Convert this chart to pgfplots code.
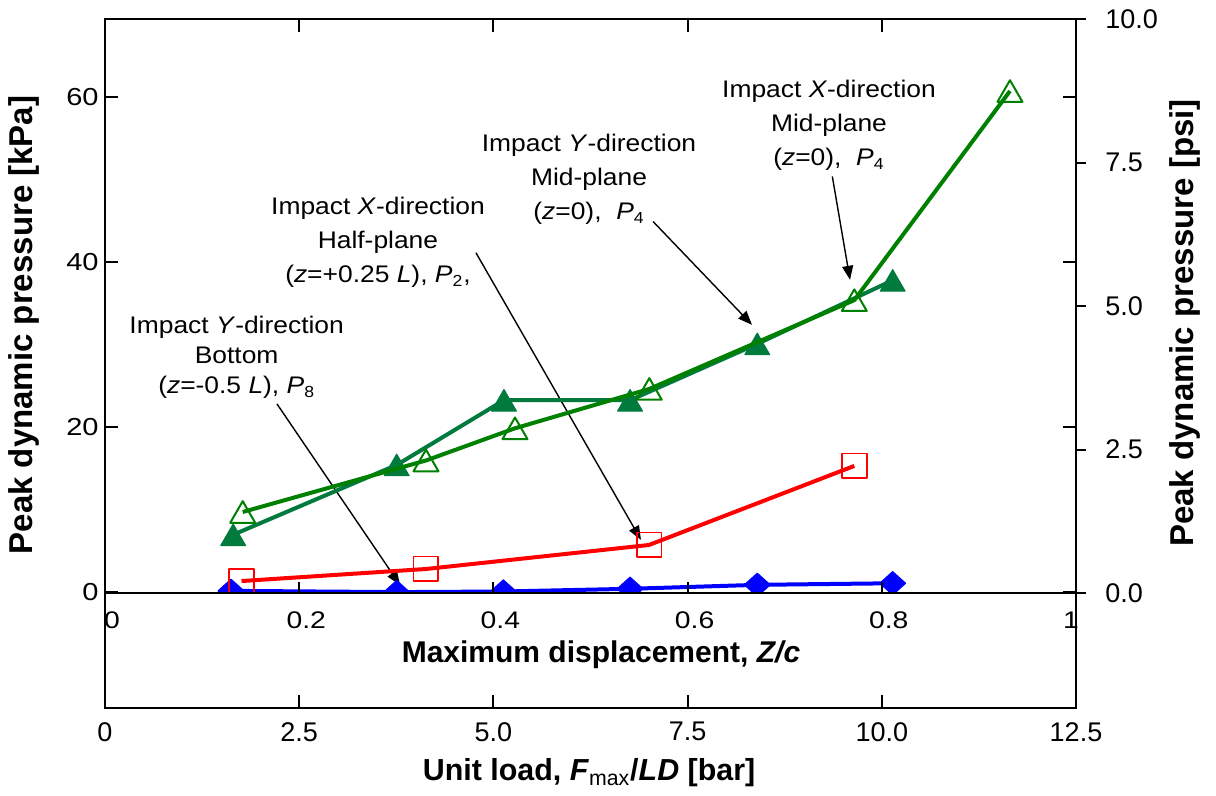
\documentclass[border=0pt]{standalone}
\usepackage{fontspec}
\setmainfont{Liberation Sans}
\newfontfamily\tickfont[FakeStretch=1.18]{Liberation Sans}
\newfontfamily\annfont[FakeStretch=1.1]{Liberation Sans}
\usepackage{pgfplots}
\pgfplotsset{compat=1.18}
\usetikzlibrary{arrows.meta}
\definecolor{dgreen}{RGB}{0,122,61}
\definecolor{lgreen}{RGB}{0,128,0}
\definecolor{pblue}{RGB}{0,0,255}
\definecolor{pred}{RGB}{255,0,0}

\begin{document}
\begin{tikzpicture}
\begin{axis}[name=main, scale only axis, width=485.5pt, height=344.5pt,
  xmin=0, xmax=12.5, ymin=-14, ymax=69.5,
  axis line style={line width=1pt},
  every tick/.style={black, line width=1pt},
  major tick length=6.5pt,
  tick align=inside,
  xtick={0,2.5,5,7.5,10,12.5}, xticklabels={0,2.5,5.0,7.5,10.0,12.5},
  ytick={0,20,40,60}, yticklabels={0,20,40,60},
  xticklabel style={font=\fontsize{13.5}{16}\selectfont, anchor=north, inner sep=0pt, yshift=-7pt},
  yticklabel style={font=\tickfont\fontsize{12.3}{14}\selectfont, anchor=east, inner sep=0pt, xshift=-3pt},
  xlabel={Unit load, \textit{F}\textsubscript{\normalfont max}/\textit{LD} [bar]},
  xlabel style={at={(rel axis cs:0.4985,-0.0943)}, anchor=center, font=\bfseries\fontsize{15.2}{17}\selectfont},
  ylabel={Peak dynamic pressure [kPa]},
  ylabel style={at={(rel axis cs:-0.0834,0.5559)}, anchor=center, font=\bfseries\fontsize{16.5}{19}\selectfont},
]
\node[align=center, font=\annfont\fontsize{12}{15}\selectfont] at (axis cs:1.695,28.49)
  {Impact \textit{Y}-direction\\Bottom\\(\textit{z}=-0.5 \textit{L}), \textit{P}\textsubscript{8}};
\node[align=center, font=\annfont\fontsize{12}{17}\selectfont] at (axis cs:3.514,42.38)
  {Impact \textit{X}-direction\\Half-plane\\(\textit{z}=+0.25 \textit{L}), \textit{P}\textsubscript{2},};
\node[align=center, font=\annfont\fontsize{12}{17}\selectfont] at (axis cs:6.231,50.02)
  {Impact \textit{Y}-direction\\Mid-plane\\(\textit{z}=0),~~\textit{P}\textsubscript{4}};
\node[align=center, font=\annfont\fontsize{12}{17}\selectfont] at (axis cs:9.320,56.6)
  {Impact \textit{X}-direction\\Mid-plane\\(\textit{z}=0),~~\textit{P}\textsubscript{4}};

\draw[black, line width=0.7pt, -{Triangle[length=7pt,width=5.5pt]}] (axis cs:2.214,22.85) -- (axis cs:3.798,0.91);
\draw[black, line width=0.7pt, -{Triangle[length=7pt,width=5.5pt]}] (axis cs:4.776,41.16) -- (axis cs:6.900,6.37);
\draw[black, line width=0.7pt, -{Triangle[length=7pt,width=5.5pt]}] (axis cs:7.055,44.96) -- (axis cs:8.329,32.44);
\draw[black, line width=0.7pt, -{Triangle[length=7pt,width=5.5pt]}] (axis cs:9.363,50.42) -- (axis cs:9.591,37.89);
\end{axis}

% right psi axis
\begin{axis}[at={(main.south west)}, anchor=south west, scale only axis, width=485.5pt, height=344.5pt,
  xmin=0, xmax=12.5, ymin=-2, ymax=10, axis x line=none, axis y line*=right,
  axis line style={line width=1pt},
  every tick/.style={black, line width=1pt},
  tick align=outside, major tick length=5pt,
  ytick={0,2.5,5,7.5,10}, yticklabels={0.0,2.5,5.0,7.5,10.0},
  yticklabel style={font=\fontsize{13.5}{16}\selectfont, anchor=west, inner sep=0pt, xshift=9.5pt},
  ylabel={Peak dynamic pressure [psi]},
  ylabel style={at={(rel axis cs:1.1123,0.5588)}, anchor=center, font=\bfseries\fontsize{16.5}{19}\selectfont},
]
\end{axis}

% data, drawn above the zero line only (same kPa scale as the left axis)
\begin{axis}[at={(main.north west)}, anchor=north west, scale only axis, width=485.5pt, height=286.75pt,
  xmin=0, xmax=12.5, ymin=0, ymax=69.5, hide axis, clip=true, clip marker paths=true,
  line join=round,
]
% Impact Y-direction, bottom, P8
\addplot[pblue, line width=2pt, mark=diamond*, mark size=5.85pt, mark options={solid, xscale=1.48, fill=pblue, draw=pblue, line width=0.5pt}]
  coordinates {(1.622,0.2) (3.755,0.05) (5.128,0.12) (6.759,0.45) (8.397,0.93) (10.140,1.12)};
% Impact X-direction, half-plane, P2
\addplot[pred, line width=2pt, mark=square, mark size=6.2pt, mark options={solid, draw=pred, fill=none, line width=0.9pt}]
  coordinates {(1.757,1.39) (4.132,2.85) (7.003,5.76) (9.646,15.34)};
% Impact Y-direction, mid-plane, P4
\addplot[dgreen, line width=2pt, mark=triangle*, mark size=7.2pt, mark options={solid, yshift=-1.8pt, fill=dgreen, draw=dgreen, line width=0.5pt}]
  coordinates {(1.65,7.0) (3.755,15.46) (5.136,23.3) (6.759,23.3) (8.397,30.13) (10.140,37.83)};
% Impact X-direction, mid-plane, P4
\addplot[lgreen, line width=2pt, mark=triangle, mark size=7.2pt, mark options={solid, yshift=-1.8pt, draw=lgreen, fill=none, line width=1pt}]
  coordinates {(1.773,9.76) (4.132,16.0) (5.278,19.9) (7.007,24.67) (9.646,35.43) (11.650,60.77)};
\end{axis}

% inner displacement axis along y = 0
\begin{axis}[at={(main.north west)}, anchor=north west, scale only axis, width=485.5pt, height=286.75pt,
  xmin=0, xmax=1, ymin=0, ymax=1, axis y line=none, axis x line*=bottom,
  axis line style={line width=1pt},
  every tick/.style={black, line width=1pt},
  tick align=inside, major tick length=5.5pt,
  xtick={0,0.2,0.4,0.6,0.8,1}, xticklabels={0,0.2,0.4,0.6,0.8,\hspace*{-12pt}1},
  xticklabel style={font=\tickfont\fontsize{12}{14}\selectfont, anchor=north, inner sep=0pt, yshift=-9.6pt, xshift=3.5pt},
  xlabel={Maximum displacement, \textit{Z/c}},
  xlabel style={at={(rel axis cs:0.5108,-0.109)}, anchor=center, font=\bfseries\fontsize{15}{18}\selectfont},
]
\end{axis}

\pgfresetboundingbox
\path[use as bounding box] ([shift={(-52.5pt,-44pt)}]main.south west) rectangle ([shift={(70pt,9.5pt)}]main.north east);
\end{tikzpicture}
\end{document}
